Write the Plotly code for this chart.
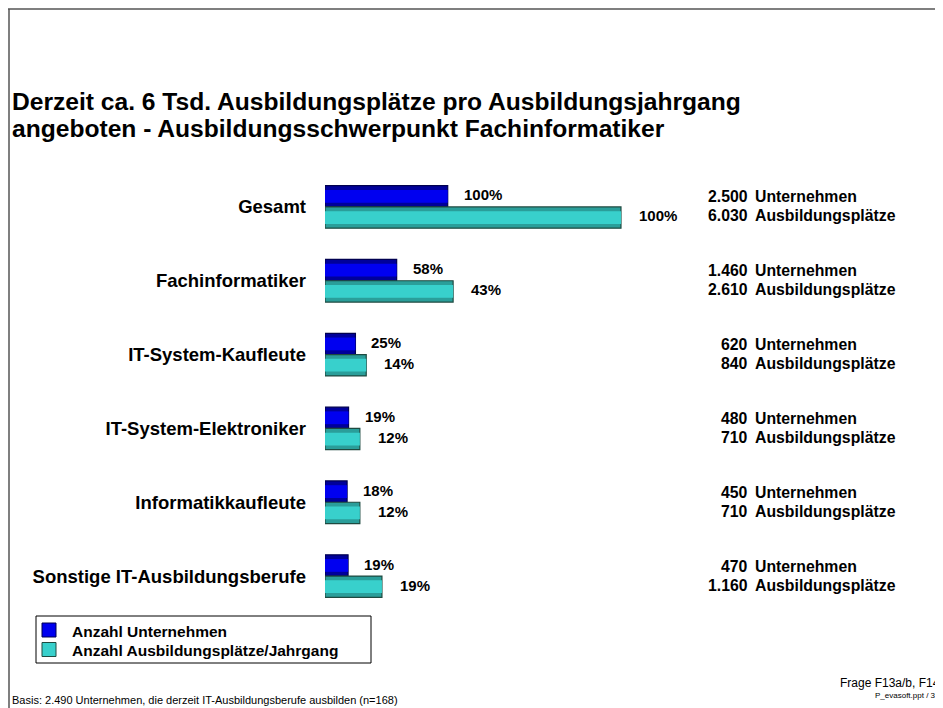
import plotly.graph_objects as go

categories = ["Gesamt", "Fachinformatiker", "IT-System-Kaufleute", "IT-System-Elektroniker",
              "Informatikkaufleute", "Sonstige IT-Ausbildungsberufe"]
unternehmen = [2500, 1460, 620, 480, 450, 470]
plaetze = [6030, 2610, 840, 710, 710, 1160]
pct_unternehmen = ["100%", "58%", "25%", "19%", "18%", "19%"]
pct_plaetze = ["100%", "43%", "14%", "12%", "12%", "19%"]
num_unternehmen = ["2.500", "1.460", "620", "480", "450", "470"]
num_plaetze = ["6.030", "2.610", "840", "710", "710", "1.160"]
series_names = ["Anzahl Unternehmen", "Anzahl Ausbildungsplätze/Jahrgang"]

# page offset (body margin) of 8px
OFF = 8
W, H = 943 - OFF, 708 - OFF
L, T = 325 - OFF, 170 - OFF
PW, PH = 375, 443
R, B = W - L - PW, H - T - PH
FONT = "Liberation Sans, Arial, sans-serif"

BLUE_DARK, BLUE, BLUE_LINE = "#00009A", "#0000F0", "#000050"
TEAL_DARK, TEAL, TEAL_LINE = "#2A9E9A", "#38D0CC", "#1E4A40"


def px(x):
    return (x - OFF - L) / PW


def py(y):
    return (T + PH - (y - OFF)) / PH


BW = 21.3 / (PH / 6)   # bar thickness in category units
fig = go.Figure()
for vals, off, dark, light, line, nm in (
        (unternehmen, -BW, BLUE_DARK, BLUE, BLUE_LINE, series_names[0]),
        (plaetze, 0.0, TEAL_DARK, TEAL, TEAL_LINE, series_names[1])):
    fig.add_trace(go.Bar(y=categories, x=vals, orientation="h", name=nm,
                         width=BW, offset=off, showlegend=False,
                         marker=dict(color=dark, line=dict(color=line, width=1.2))))
    fig.add_trace(go.Bar(y=categories, x=vals, orientation="h", name=nm, hoverinfo="skip",
                         width=BW * 0.6, offset=off + BW * 0.2, showlegend=False,
                         marker=dict(color=light, line=dict(width=0))))

ann = []
bold = dict(family=FONT, size=15, color="black")
bold_r = dict(family=FONT, size=15.8, color="black")
for c, v, t in zip(categories, unternehmen, pct_unternehmen):
    ann.append(dict(x=v, y=c, xref="x", yref="y", text="<b>%s</b>" % t, showarrow=False,
                    xanchor="left", yanchor="middle", xshift=14, yshift=12, font=bold))
for c, v, t in zip(categories, plaetze, pct_plaetze):
    ann.append(dict(x=v, y=c, xref="x", yref="y", text="<b>%s</b>" % t, showarrow=False,
                    xanchor="left", yanchor="middle", xshift=16, yshift=-9, font=bold))
for c, n1, n2 in zip(categories, num_unternehmen, num_plaetze):
    for n, word, ys in ((n1, "Unternehmen", 10), (n2, "Ausbildungsplätze", -9)):
        ann.append(dict(x=px(750), y=c, xref="paper", yref="y", text="<b>%s</b>" % n,
                        showarrow=False, xanchor="right", yanchor="middle", yshift=ys, font=bold_r))
        ann.append(dict(x=px(753), y=c, xref="paper", yref="y", text="<b>%s</b>" % word,
                        showarrow=False, xanchor="left", yanchor="middle", yshift=ys, font=bold_r))

title_font = dict(family=FONT, size=24.6, color="black")
ann.append(dict(x=px(10), y=py(101), xref="paper", yref="paper", showarrow=False,
                text="<b>Derzeit ca. 6 Tsd. Ausbildungsplätze pro Ausbildungsjahrgang</b>",
                xanchor="left", yanchor="middle", font=title_font))
ann.append(dict(x=px(10), y=py(128), xref="paper", yref="paper", showarrow=False,
                text="<b>angeboten - Ausbildungsschwerpunkt Fachinformatiker</b>",
                xanchor="left", yanchor="middle", font=title_font))
ann.append(dict(x=px(10), y=py(700), xref="paper", yref="paper", showarrow=False,
                text="Basis: 2.490 Unternehmen, die derzeit IT-Ausbildungsberufe ausbilden (n=168)",
                xanchor="left", yanchor="middle", font=dict(family=FONT, size=11, color="black")))
ann.append(dict(x=px(942), y=py(683), xref="paper", yref="paper", showarrow=False,
                text="Frage F13a/b, F14", xanchor="right", yanchor="middle",
                font=dict(family=FONT, size=12, color="black")))
ann.append(dict(x=px(942), y=py(695), xref="paper", yref="paper", showarrow=False,
                text="P_evasoft.ppt / 39", xanchor="right", yanchor="middle",
                font=dict(family=FONT, size=8, color="black")))

shapes = [
    dict(type="line", xref="paper", yref="paper", x0=px(8), x1=px(945), y0=py(9), y1=py(9),
         line=dict(color="#555555", width=1.5)),
    dict(type="line", xref="paper", yref="paper", x0=px(9), x1=px(9), y0=py(9), y1=py(710),
         line=dict(color="#555555", width=1.5)),
]

# legend box (drawn)
shapes.append(dict(type="rect", xref="paper", yref="paper", x0=px(36), x1=px(371),
                   y0=py(616), y1=py(663), line=dict(color="black", width=1), fillcolor="white",
                   layer="below"))
leg_font = dict(family=FONT, size=15.5, color="black")
for i, (nm, col, line) in enumerate(zip(series_names, [BLUE, TEAL], [BLUE_LINE, TEAL_LINE])):
    yc = 630 + 19.5 * i
    shapes.append(dict(type="rect", xref="paper", yref="paper", x0=px(42), x1=px(56),
                       y0=py(yc - 7), y1=py(yc + 7), fillcolor=col,
                       line=dict(color=line, width=1)))
    ann.append(dict(x=px(70), y=py(yc + 1), xref="paper", yref="paper", showarrow=False,
                    text="<b>%s</b>" % nm, xanchor="left", yanchor="middle", font=leg_font))

fig.update_layout(
    width=W, height=H,
    margin=dict(l=L, r=R, t=T, b=B, autoexpand=False),
    paper_bgcolor="white", plot_bgcolor="white",
    barmode="overlay",
    font=dict(family=FONT, color="black"),
    xaxis=dict(range=[0, 7640], visible=False, showgrid=False, zeroline=False),
    yaxis=dict(autorange="reversed", showgrid=False, zeroline=False, showline=False, ticks="",
               tickfont=dict(family=FONT, size=18.5, color="black", weight="bold"),
               ticklabelstandoff=18),
    annotations=ann, shapes=shapes,
    showlegend=False,
)

fig.write_html("out.html")
